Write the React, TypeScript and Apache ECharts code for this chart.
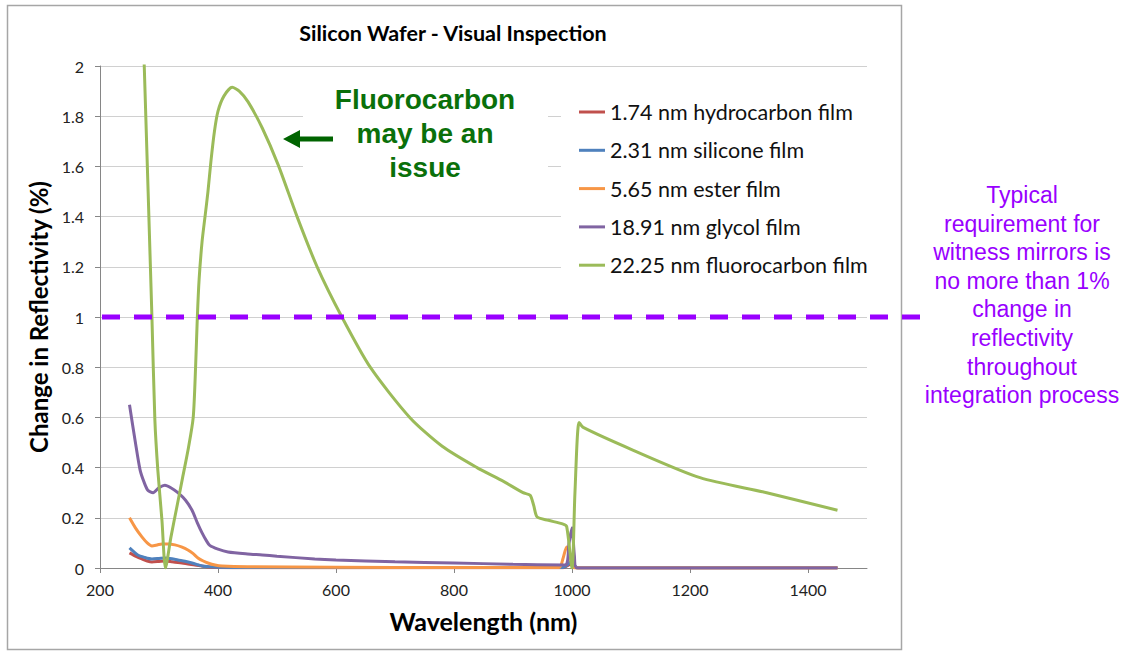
import React, { useEffect, useRef } from "react";
import * as echarts from "echarts";

// ---- Data (wavelength in nm, change in reflectivity in %) ----
const xTicks = [200, 400, 600, 800, 1000, 1200, 1400];

const hydroX = [250, 262, 271, 280, 288, 300, 310, 322, 339, 361, 383, 400, 450, 600, 800, 985, 993, 1000, 1005, 1010, 1200, 1450];
const hydroY = [0.06, 0.045, 0.036, 0.028, 0.024, 0.026, 0.028, 0.025, 0.02, 0.012, 0.004, 0.002, 0.001, 0.001, 0.001, 0.001, 0.01, 0.02, 0.006, 0, 0, 0];

const siliconeX = [250, 264, 276, 288, 300, 310, 322, 332, 344, 356, 366, 373, 385, 400, 450, 600, 800, 985, 993, 1000, 1005, 1010, 1200, 1450];
const siliconeY = [0.08, 0.052, 0.042, 0.036, 0.038, 0.04, 0.037, 0.032, 0.027, 0.02, 0.013, 0.008, 0.005, 0.003, 0.002, 0.002, 0.002, 0.002, 0.015, 0.03, 0.008, 0, 0, 0];

const esterX = [250, 260, 271, 280, 288, 297, 305, 316, 327, 338, 349, 358, 366, 375, 383, 395, 407, 450, 600, 800, 978, 985, 991, 996, 1000, 1005, 1200, 1450];
const esterY = [0.2, 0.16, 0.124, 0.1, 0.088, 0.092, 0.096, 0.096, 0.092, 0.084, 0.072, 0.057, 0.04, 0.028, 0.02, 0.012, 0.008, 0.005, 0.003, 0.002, 0.002, 0.04, 0.084, 0.06, 0.01, 0, 0, 0];

const glycolX = [250, 260, 268, 275, 281, 290, 300, 310, 320, 332, 345, 356, 365, 373, 380, 386, 400, 417, 450, 475, 500, 564, 600, 700, 800, 900, 988, 995, 1000, 1004, 1008, 1100, 1450];
const glycolY = [0.65, 0.5, 0.39, 0.34, 0.31, 0.3, 0.32, 0.33, 0.32, 0.3, 0.27, 0.23, 0.18, 0.14, 0.11, 0.09, 0.075, 0.064, 0.056, 0.052, 0.047, 0.036, 0.032, 0.025, 0.02, 0.015, 0.012, 0.1, 0.16, 0.05, 0, 0, 0];

const fluoroX = [250, 260, 270, 275, 288, 293, 298, 305, 311, 320, 330, 340, 350, 358, 362, 365, 368, 373, 378, 383, 388, 394, 400, 410, 424, 436, 451, 475, 502, 534, 568, 610, 658, 725, 780, 839, 880, 917, 929, 935, 941, 960, 985, 991, 1000, 1005, 1012, 1019, 1103, 1217, 1330, 1450];
const fluoroY = [3.83, 3.09, 2.34, 2.0, 1.0, 0.59, 0.39, 0.19, 0.0, 0.12, 0.24, 0.36, 0.48, 0.6, 0.8, 1.0, 1.15, 1.3, 1.4, 1.5, 1.62, 1.74, 1.82, 1.88, 1.915, 1.9, 1.857, 1.753, 1.606, 1.4, 1.2, 1.0, 0.8, 0.6, 0.485, 0.4, 0.35, 0.3, 0.29, 0.25, 0.203, 0.19, 0.175, 0.165, 0.0, 0.3, 0.58, 0.56, 0.47, 0.36, 0.3, 0.23];

const seriesNames = [
  "1.74 nm hydrocarbon film",
  "2.31 nm silicone film",
  "5.65 nm ester film",
  "18.91 nm glycol film",
  "22.25 nm fluorocarbon film",
];
const seriesColors = ["#C0504D", "#4F81BD", "#F79646", "#8064A2", "#9BBB59"];
const seriesX = [hydroX, siliconeX, esterX, glycolX, fluoroX];
const seriesY = [hydroY, siliconeY, esterY, glycolY, fluoroY];

const requirementValue = 1;
const noteLines = [
  "Typical",
  "requirement for",
  "witness mirrors is",
  "no more than 1%",
  "change in",
  "reflectivity",
  "throughout",
  "integration process",
];

const zip = (xs: number[], ys: number[]) => xs.map((x, i) => [x, ys[i]]);

const CAL = "Lato, 'Open Sans', sans-serif";
const ARIAL = "'Liberation Sans', Arial, sans-serif";

export default function App() {
  const ref = useRef<HTMLDivElement>(null);

  useEffect(() => {
    document.body.style.margin = "0";
    if (!ref.current) return;
    const chart = echarts.init(ref.current, undefined, { renderer: "svg" });

    const series = seriesNames.map((name, i) => ({
      name,
      type: "line",
      data: zip(seriesX[i], seriesY[i]),
      showSymbol: false,
      smooth: 0.25,
      clip: true,
      lineStyle: { width: 3, color: seriesColors[i] },
      itemStyle: { color: seriesColors[i] },
      z: 2 + i * 0.1,
    }));

    chart.setOption({
      animation: false,
      backgroundColor: "#ffffff",
      grid: { left: 100, right: 258, top: 66, bottom: 83 },
      xAxis: {
        type: "value",
        min: 200,
        max: 1500,
        interval: 200,
        name: "Wavelength (nm)",
        nameLocation: "middle",
        nameGap: 40,
        nameTextStyle: { fontFamily: CAL, fontWeight: "bold", fontSize: 25, color: "#000" },
        axisLine: { show: true, lineStyle: { color: "#868686", width: 1 } },
        axisTick: { show: true, length: 5, lineStyle: { color: "#868686" }, customValues: xTicks },
        axisLabel: {
          fontFamily: CAL,
          fontSize: 16,
          color: "#222",
          margin: 13,
          customValues: xTicks,
          formatter: (v: number) => String(v),
        },
        splitLine: { show: false },
      },
      yAxis: {
        type: "value",
        min: 0,
        max: 2,
        interval: 0.2,
        name: "Change in Reflectivity (%)",
        nameLocation: "middle",
        nameGap: 44,
        nameTextStyle: { fontFamily: CAL, fontWeight: "bold", fontSize: 24, color: "#000" },
        axisLine: { show: true, lineStyle: { color: "#868686", width: 1 } },
        axisTick: { show: true, length: 5, lineStyle: { color: "#868686" } },
        axisLabel: { fontFamily: CAL, fontSize: 16, color: "#222", margin: 16 },
        splitLine: { show: true, lineStyle: { color: "#d0d0d0", width: 1 } },
      },
      legend: {
        orient: "vertical",
        left: 561,
        top: 89,
        padding: [12, 10, 12, 18],
        itemGap: 16.3,
        itemWidth: 26,
        itemHeight: 3,
        icon: "rect",
        backgroundColor: "#ffffff",
        textStyle: { fontFamily: CAL, fontSize: 21.5, lineHeight: 20, color: "#111" },
        data: seriesNames,
      },
      series,
    });

    const p = chart.convertToPixel({ gridIndex: 0 }, [200, requirementValue]) as number[];

    chart.setOption({
      graphic: [
        {
          type: "rect",
          silent: true,
          z: 0,
          shape: { x: 7.5, y: 5.5, width: 894, height: 644 },
          style: { fill: "none", stroke: "#a6a6a6", lineWidth: 1.5 },
        },
        {
          type: "rect",
          silent: true,
          z: 1,
          shape: { x: 303, y: 80, width: 245, height: 125 },
          style: { fill: "#ffffff" },
        },
        {
          type: "text",
          silent: true,
          z: 5,
          x: 453,
          y: 33,
          style: {
            text: "Silicon Wafer - Visual Inspection",
            align: "center",
            verticalAlign: "middle",
            fontFamily: CAL,
            fontWeight: "bold",
            fontSize: 21.5,
            fill: "#000",
          },
        },
        {
          type: "text",
          silent: true,
          z: 5,
          x: 425,
          y: 133,
          style: {
            text: "Fluorocarbon\nmay be an\nissue",
            align: "center",
            verticalAlign: "middle",
            fontFamily: ARIAL,
            fontWeight: "bold",
            fontSize: 28,
            lineHeight: 34,
            fill: "#0a700a",
          },
        },
        {
          type: "polygon",
          silent: true,
          z: 5,
          shape: {
            points: [
              [283, 139],
              [300, 130],
              [300, 136.5],
              [333, 136.5],
              [333, 141.5],
              [300, 141.5],
              [300, 148],
            ],
          },
          style: { fill: "#006400" },
        },
        {
          type: "line",
          silent: true,
          z: 10,
          shape: { x1: p[0] + 2, y1: p[1], x2: 925, y2: p[1] },
          style: { stroke: "#9900ff", lineWidth: 5, lineDash: [18, 14] },
        },
        {
          type: "text",
          silent: true,
          z: 5,
          x: 1022,
          y: 295,
          style: {
            text: noteLines.join("\n"),
            align: "center",
            verticalAlign: "middle",
            fontFamily: ARIAL,
            fontSize: 23,
            lineHeight: 28.6,
            fill: "#9900ff",
          },
        },
      ],
    });

    return () => chart.dispose();
  }, []);

  return <div ref={ref} style={{ width: 1125, height: 651 }} />;
}
